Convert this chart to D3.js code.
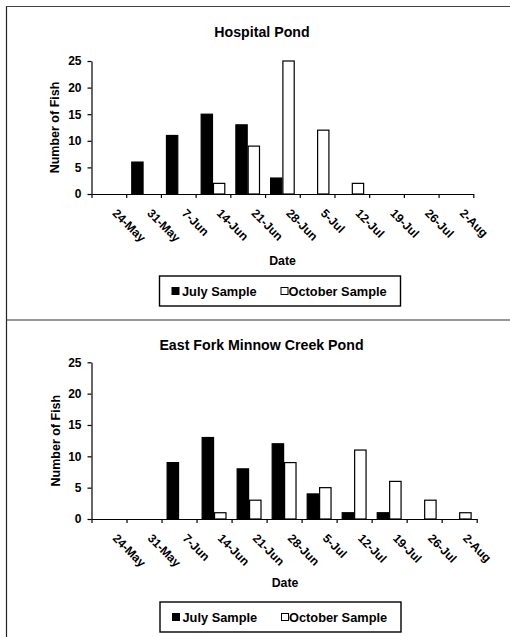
<!DOCTYPE html>
<html><head><meta charset="utf-8">
<script src="https://cdn.jsdelivr.net/npm/d3@7/dist/d3.min.js"></script>
<style>
html,body{margin:0;padding:0;background:#fff;}
svg{display:block;font-family:"Liberation Sans",Arial,Helvetica,sans-serif;font-weight:bold;}
</style></head><body>
<svg id="chart" width="510" height="637"></svg>
<script>
// Weekly sampling dates (x categories)
const categories = ["24-May","31-May","7-Jun","14-Jun","21-Jun","28-Jun","5-Jul","12-Jul","19-Jul","26-Jul","2-Aug"];
const seriesNames = ["July Sample","October Sample"];
const seriesFill = ["#000","#fff"];

// Hospital Pond counts
const hospitalJuly    = [0,6,11,15,13,3,0,0,0,0,0];
const hospitalOctober = [0,0,0,2,9,25,12,2,0,0,0];

// East Fork Minnow Creek Pond counts
const eastForkJuly    = [0,0,9,13,8,12,4,1,1,0,0];
const eastForkOctober = [0,0,0,1,3,9,5,11,6,3,1];

const yTicks = [0,5,10,15,20,25];

const svg = d3.select("#chart");

// page frame: left edge, top edge and divider between the two panels
svg.append("line").attr("x1",6.5).attr("x2",6.5).attr("y1",6).attr("y2",637).attr("stroke","#222").attr("stroke-width",1.2);
svg.append("line").attr("x1",6).attr("x2",510).attr("y1",6.5).attr("y2",6.5).attr("stroke","#444").attr("stroke-width",1.2);
svg.append("line").attr("x1",6).attr("x2",510).attr("y1",320).attr("y2",320).attr("stroke","#333").attr("stroke-width",1.2);

function drawPanel(cfg) {
  const g = svg.append("g");
  const x = d3.scaleBand().domain(categories).range([cfg.left, cfg.right]);
  const xi = d3.scaleLinear().domain([0, categories.length]).range([cfg.left, cfg.right]);
  const xs = d3.scaleBand().domain(seriesNames).range([0, x.bandwidth()]).paddingOuter(0.41);
  const y = d3.scaleLinear().domain([0, 25]).range([cfg.bottom, cfg.top]);

  g.append("text")
    .attr("x", cfg.titleX).attr("y", cfg.titleY)
    .attr("text-anchor", "middle")
    .style("font-size", "14.2px")
    .text(cfg.title);

  // bars
  const rows = categories.map((c, i) => ({c, vals: [cfg.july[i], cfg.october[i]]}));
  g.selectAll("g.cat").data(rows).join("g")
    .attr("class", "cat")
    .attr("transform", d => `translate(${x(d.c)},0)`)
    .selectAll("rect")
    .data(d => d.vals.map((v, k) => ({v, k})).filter(e => e.v > 0))
    .join("rect")
    .attr("x", d => xs(seriesNames[d.k]) + 0.5)
    .attr("width", xs.bandwidth() - 1)
    .attr("y", d => y(d.v))
    .attr("height", d => y(0) - y(d.v))
    .attr("fill", d => seriesFill[d.k])
    .attr("stroke", "#000")
    .attr("stroke-width", 1.2);

  // y axis
  const ya = g.append("g")
    .attr("transform", `translate(${cfg.left},0)`)
    .call(d3.axisLeft(y).tickValues(yTicks).tickSize(4).tickSizeOuter(0).tickPadding(6));
  ya.selectAll("text").style("font-size", "12px").attr("fill", "#000");
  ya.selectAll("line,path").attr("stroke", "#000").attr("stroke-width", 1.2);

  // x axis with tick marks on category boundaries
  const xa = g.append("g")
    .attr("transform", `translate(0,${cfg.bottom})`)
    .call(d3.axisBottom(xi).tickValues(d3.range(categories.length + 1)).tickSize(4).tickSizeOuter(0).tickFormat(""));
  xa.selectAll("line,path").attr("stroke", "#000").attr("stroke-width", 1.2);

  // slanted date labels
  g.selectAll("text.xl").data(categories).join("text")
    .attr("class", "xl")
    .attr("transform", c => `translate(${x(c) + x.bandwidth() / 2 + 3},${cfg.bottom + 20}) rotate(45)`)
    .style("font-size", "12px")
    .text(c => c);

  // axis titles
  g.append("text")
    .attr("transform", `translate(${cfg.yTitleX},${(cfg.top + cfg.bottom) / 2}) rotate(-90)`)
    .attr("text-anchor", "middle")
    .style("font-size", "12.5px")
    .text("Number of Fish");
  g.append("text")
    .attr("x", cfg.dateX).attr("y", cfg.dateY)
    .attr("text-anchor", "middle")
    .style("font-size", "12.3px")
    .text("Date");

  // legend
  const lg = g.append("g").attr("transform", `translate(${cfg.legendX},${cfg.legendY})`);
  lg.append("rect").attr("x", 0).attr("y", 0).attr("width", 241).attr("height", 30)
    .attr("fill", "#fff").attr("stroke", "#000").attr("stroke-width", 1.4);
  const items = [{x: 12.5, tx: 22.5}, {x: 121.5, tx: 129}];
  seriesNames.forEach((name, k) => {
    lg.append("rect").attr("x", items[k].x).attr("y", 11.5).attr("width", 7).attr("height", 7)
      .attr("fill", seriesFill[k]).attr("stroke", "#000").attr("stroke-width", 1);
    lg.append("text").attr("x", items[k].tx).attr("y", 19.5)
      .style("font-size", "12.8px").text(name);
  });
}

drawPanel({
  title: "Hospital Pond", titleX: 262, titleY: 37,
  july: hospitalJuly, october: hospitalOctober,
  left: 91.5, right: 473.3, top: 61, bottom: 194,
  yTitleX: 58.5, dateX: 282.5, dateY: 265,
  legendX: 159.5, legendY: 276
});

drawPanel({
  title: "East Fork Minnow Creek Pond", titleX: 261.5, titleY: 350,
  july: eastForkJuly, october: eastForkOctober,
  left: 91.5, right: 476.7, top: 362.3, bottom: 519,
  yTitleX: 60, dateX: 285, dateY: 587,
  legendX: 160, legendY: 602
});
</script>
</body></html>
